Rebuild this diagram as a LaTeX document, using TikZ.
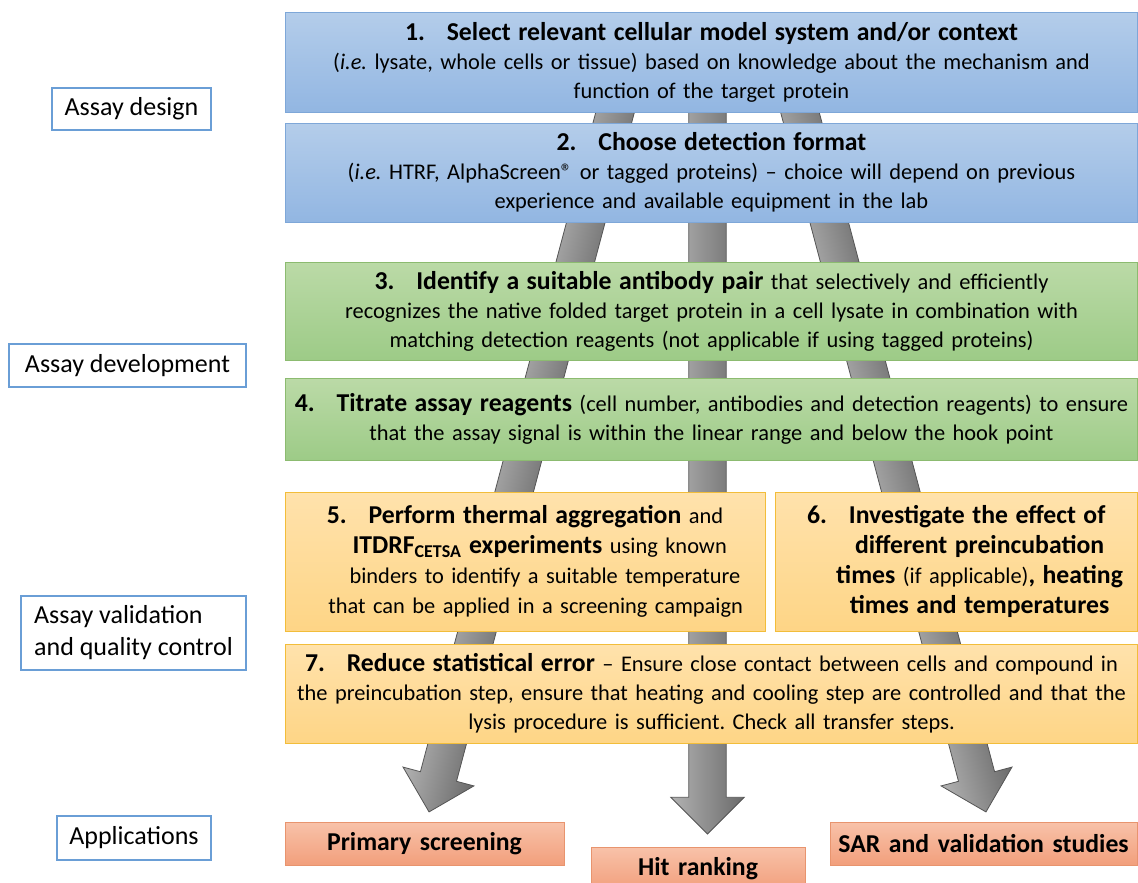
\documentclass[tikz,border=0pt]{standalone}
\usepackage{fontspec}
\setmainfont{Carlito}
\usetikzlibrary{calc}
\frenchspacing

% box colours
\definecolor{designtop}{HTML}{B4CDEA}
\definecolor{designbot}{HTML}{92B6E2}
\definecolor{designline}{HTML}{7EA7D8}
\definecolor{devtop}{HTML}{BBDAA7}
\definecolor{devbot}{HTML}{9DCB87}
\definecolor{devline}{HTML}{8CBB70}
\definecolor{validtop}{HTML}{FFE2AC}
\definecolor{validbot}{HTML}{FED586}
\definecolor{validline}{HTML}{F2BD3A}
\definecolor{apptop}{HTML}{F8C2A9}
\definecolor{appbot}{HTML}{F29F7C}
\definecolor{appline}{HTML}{E8946E}
\definecolor{phaseline}{HTML}{6A9ED6}
\definecolor{arrowlight}{HTML}{B2B2B2}
\definecolor{arrowdark}{HTML}{6A6A6A}
\definecolor{arrowline}{HTML}{555555}

\newcommand\bodyfont{\fontsize{16.8}{21.75}\selectfont}
\newcommand\headfont{\fontsize{19.3}{21.75}\selectfont\bfseries}
\newcommand\stepno[1]{#1.\hspace{0.85em}}

\tikzset{
  box/.style={rectangle, draw, line width=0.75pt, inner sep=0pt, align=center, font=\bodyfont},
  wide/.style={box, text width=639pt, minimum height=#1},
  design/.style={top color=designtop, bottom color=designbot, draw=designline},
  devel/.style={top color=devtop, bottom color=devbot, draw=devline},
  valid/.style={top color=validtop, bottom color=validbot, draw=validline},
  app/.style={box, top color=apptop, bottom color=appbot, draw=appline,
    font=\headfont, minimum height=32.25pt},
  phase/.style={rectangle, draw=phaseline, line width=1.1pt, fill=white, inner sep=0pt,
    font=\fontsize{19.5}{24}\selectfont, minimum height=#1},
  flowarrow/.style={top color=arrowdark, bottom color=arrowlight, draw=arrowline, line width=0.6pt},
}

% grey block arrow from #1 to #2 (tip), shaded across the shaft
\newcommand\flowarrow[2]{%
  \path let \p1 = ($(#2)-(#1)$) in
    \pgfextra{\pgfmathsetmacro\arrlen{veclen(\x1,\y1)}%
              \pgfmathsetmacro\arrang{atan2(\y1,\x1)}%
              \global\let\arrlen\arrlen \global\let\arrang\arrang};
  \begin{scope}[transform canvas={shift={(#1)}, rotate=\arrang}]
    \shadedraw[flowarrow] (0pt,14pt) -- ({\arrlen pt-27.5pt},14pt)
      -- ({\arrlen pt-27.5pt},27.5pt) -- (\arrlen pt,0pt)
      -- ({\arrlen pt-27.5pt},-27.5pt) -- ({\arrlen pt-27.5pt},-14pt)
      -- (0pt,-14pt) -- cycle;
  \end{scope}
}

\begin{document}
\begin{tikzpicture}[x=0.75pt,y=-0.75pt]
  \useasboundingbox (0,0) rectangle (1138,882);

  % arrows run behind the steps
  \coordinate (startL) at (629,60);
  \coordinate (startM) at (707.5,60);
  \coordinate (startR) at (786,60);
  \coordinate (tipL) at (429,812);
  \coordinate (tipM) at (707.5,834);
  \coordinate (tipR) at (986,812);
  \flowarrow{startL}{tipL}
  \flowarrow{startM}{tipM}
  \flowarrow{startR}{tipR}

  % Assay design
  \node[wide=75pt, design] (s1) at (711.5,62)
    {{\headfont\stepno{1}Select relevant cellular model system and/or context}\\
     (\textit{i.e.} lysate, whole cells or tissue) based on knowledge about the mechanism and\\
     function of the target protein};
  \node[wide=74.25pt, design] (s2) at (711.5,172.5)
    {{\headfont\stepno{2}Choose detection format}\\
     (\textit{i.e.} HTRF, AlphaScreen® or tagged proteins) – choice will depend on previous\\
     experience and available equipment in the lab};

  % Assay development
  \node[wide=73.5pt, devel] (s3) at (711.5,311)
    {{\headfont\stepno{3}Identify a suitable antibody pair} that selectively and efficiently\\
     recognizes the native folded target protein in a cell lysate in combination with\\
     matching detection reagents (not applicable if using tagged proteins)};
  \node[wide=61.5pt, devel] (s4) at (711.5,419)
    {{\headfont\stepno{4}Titrate assay reagents} (cell number, antibodies and detection reagents) to ensure\\
     that the assay signal is within the linear range and below the hook point};

  % Assay validation
  \node[box, valid, text width=360pt, minimum height=104.25pt, font=\fontsize{16.8}{22.5}\selectfont] (s5) at (525,561.5)
    {{\headfont\stepno{5}Perform thermal aggregation} and\\
     \hspace*{22pt}{\headfont ITDRF\textsubscript{CETSA} experiments} using known\\
     \hspace*{30pt}binders to identify a suitable temperature\\
     \hspace*{16pt}that can be applied in a screening campaign};
  \node[box, valid, text width=271.5pt, minimum height=104.25pt, font=\fontsize{16.8}{22.5}\selectfont] (s6) at (956.25,561.5)
    {{\headfont\stepno{6}Investigate the effect of}\\
     \hspace*{35pt}{\headfont different preincubation}\\
     \hspace*{35pt}{\headfont times} (if applicable){\headfont, heating}\\
     \hspace*{35pt}{\headfont times and temperatures}};
  \node[wide=74.25pt, valid] (s7) at (711.5,693.5)
    {{\headfont\stepno{7}Reduce statistical error} – Ensure close contact between cells and compound in\\
     the preincubation step, ensure that heating and cooling step are controlled and that the\\
     lysis procedure is sufficient. Check all transfer steps.};

  % Applications
  \node[app, text width=209.25pt] (prim) at (424.5,843.5) {Primary screening};
  \node[app, text width=160.5pt] (hit) at (698,868.5) {Hit ranking};
  \node[app, text width=230.25pt] (sar) at (983.5,843.5) {SAR and validation studies};

  % phase labels on the left
  \node[phase=31.5pt, minimum width=119.25pt] (design) at (131.5,109) {Assay design};
  \node[phase=32.25pt, minimum width=177.75pt] (develop) at (127.5,365.5) {Assay development};
  \node[phase=55.5pt, minimum width=168.75pt, align=left] (validate) at (133.5,633)
    {Assay validation\\and quality control};
  \node[phase=33pt, minimum width=115.5pt] (apps) at (134,838) {Applications};
\end{tikzpicture}
\end{document}
